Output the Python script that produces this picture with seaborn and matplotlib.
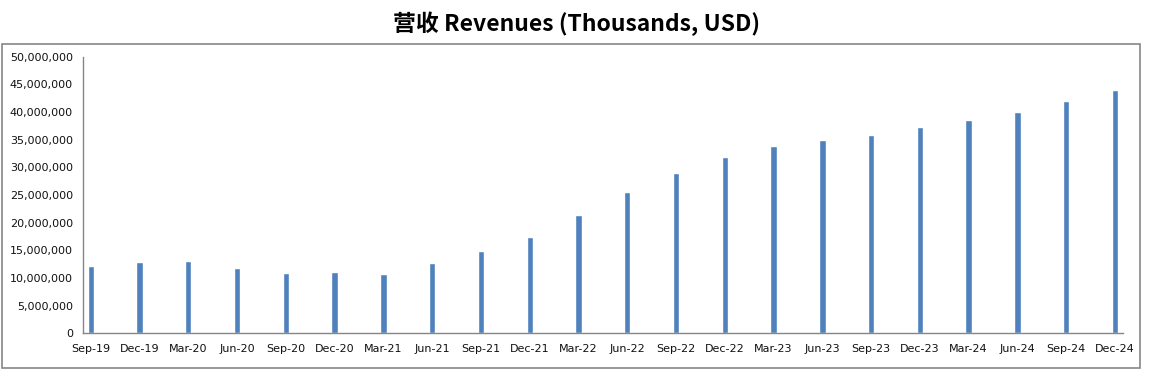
import matplotlib

matplotlib.use("Agg")
import matplotlib.pyplot as plt
import matplotlib.ticker as mticker
import pandas as pd
import seaborn as sns
from matplotlib.patches import Rectangle

quarters = [
    "Sep-19", "Dec-19", "Mar-20", "Jun-20", "Sep-20", "Dec-20",
    "Mar-21", "Jun-21", "Sep-21", "Dec-21", "Mar-22", "Jun-22",
    "Sep-22", "Dec-22", "Mar-23", "Jun-23", "Sep-23", "Dec-23",
    "Mar-24", "Jun-24", "Sep-24", "Dec-24",
]
revenues = [
    12_160_000, 12_940_000, 13_120_000, 11_860_000, 10_950_000, 11_130_000,
    10_770_000, 12_700_000, 14_870_000, 17_400_000, 21_380_000, 25_530_000,
    28_970_000, 31_860_000, 33_850_000, 34_930_000, 35_840_000, 37_280_000,
    38_540_000, 40_000_000, 41_980_000, 43_960_000,
]
y_ticks = list(range(0, 50_000_001, 5_000_000))

BAR_COLOR = "#4F81BD"
AXIS_COLOR = "#868686"

sns.set_theme(style="white")
plt.rcParams["font.family"] = ["DejaVu Sans"]

df = pd.DataFrame({"quarter": quarters, "revenue": revenues})

fig = plt.figure(figsize=(11.49, 3.77), dpi=100)
ax = fig.add_axes([0.072, 0.1159, 0.9054, 0.7337])

sns.barplot(data=df, x="quarter", y="revenue", color=BAR_COLOR,
            width=0.13, saturation=1, ax=ax)

n = len(quarters)
shift = 0.165
ax.set_xlim(-shift, n - 1 + shift)
ax.set_ylim(0, 50_000_000)

# labels sit under the bars, tick marks sit a little to the left
ax.set_xticks(range(n))
ax.set_xticklabels(quarters)
ax.set_xticks([i - shift for i in range(n)], minor=True)
ax.tick_params(axis="x", which="major", length=0, pad=8, labelsize=8, colors="#111111")
ax.tick_params(axis="x", which="minor", length=4, width=1, color=AXIS_COLOR, direction="out")

ax.set_yticks(y_ticks)
ax.yaxis.set_major_formatter(mticker.FuncFormatter(lambda v, _: f"{int(v):,}"))
ax.tick_params(axis="y", length=4, width=1, color=AXIS_COLOR, direction="out",
               labelsize=8, labelcolor="#111111", pad=3)

ax.set_xlabel("")
ax.set_ylabel("")
for side in ("top", "right"):
    ax.spines[side].set_visible(False)
for side in ("left", "bottom"):
    ax.spines[side].set_color(AXIS_COLOR)
    ax.spines[side].set_linewidth(1)

fig.patches.append(Rectangle((0.0017, 0.0239), 0.9904, 0.859, transform=fig.transFigure,
                             fill=False, edgecolor=AXIS_COLOR, linewidth=1.2))

fig.text(0.502, 0.938, "营收 Revenues (Thousands, USD)", ha="center", va="center",
         fontsize=16.5, fontweight="bold", color="black",
         family=["Noto Sans CJK SC", "DejaVu Sans"])

fig.savefig("out.png", dpi=100)
